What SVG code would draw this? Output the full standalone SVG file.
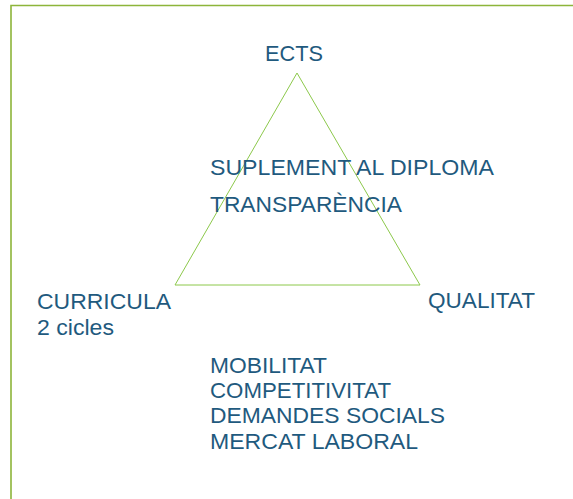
<svg xmlns="http://www.w3.org/2000/svg" width="573" height="499" viewBox="0 0 573 499">
<style>
.t{font-family:"Liberation Sans",Arial,sans-serif;font-size:22px;fill:#1f5a7e}
.frame{fill:none;stroke:#8db53a;stroke-width:1.6}
.tri{fill:none;stroke:#8cc84b;stroke-width:1}
</style>
<rect width="573" height="499" fill="#ffffff"/>
<path class="frame" d="M11,499 V5.5 H573"/>
<g id="connectors">
<polygon class="tri" points="297,73 175,285 420,285"/>
</g>
<g id="ects"><text class="t" x="265" y="61" textLength="58" lengthAdjust="spacingAndGlyphs">ECTS</text></g>
<g id="center">
<text class="t" x="210" y="175" textLength="284" lengthAdjust="spacingAndGlyphs">SUPLEMENT AL DIPLOMA</text>
<text class="t" x="210" y="212" textLength="192" lengthAdjust="spacingAndGlyphs">TRANSPARÈNCIA</text>
</g>
<g id="curricula">
<text class="t" x="37" y="309" textLength="134" lengthAdjust="spacingAndGlyphs">CURRICULA</text>
<text class="t" x="37" y="335" textLength="77" lengthAdjust="spacingAndGlyphs">2 cicles</text>
</g>
<g id="qualitat"><text class="t" x="428" y="308" textLength="107" lengthAdjust="spacingAndGlyphs">QUALITAT</text></g>
<g id="bottom">
<text class="t" x="210" y="373" textLength="117" lengthAdjust="spacingAndGlyphs">MOBILITAT</text>
<text class="t" x="210" y="398" textLength="181" lengthAdjust="spacingAndGlyphs">COMPETITIVITAT</text>
<text class="t" x="210" y="423" textLength="235" lengthAdjust="spacingAndGlyphs">DEMANDES SOCIALS</text>
<text class="t" x="210" y="449" textLength="208" lengthAdjust="spacingAndGlyphs">MERCAT LABORAL</text>
</g>
</svg>
